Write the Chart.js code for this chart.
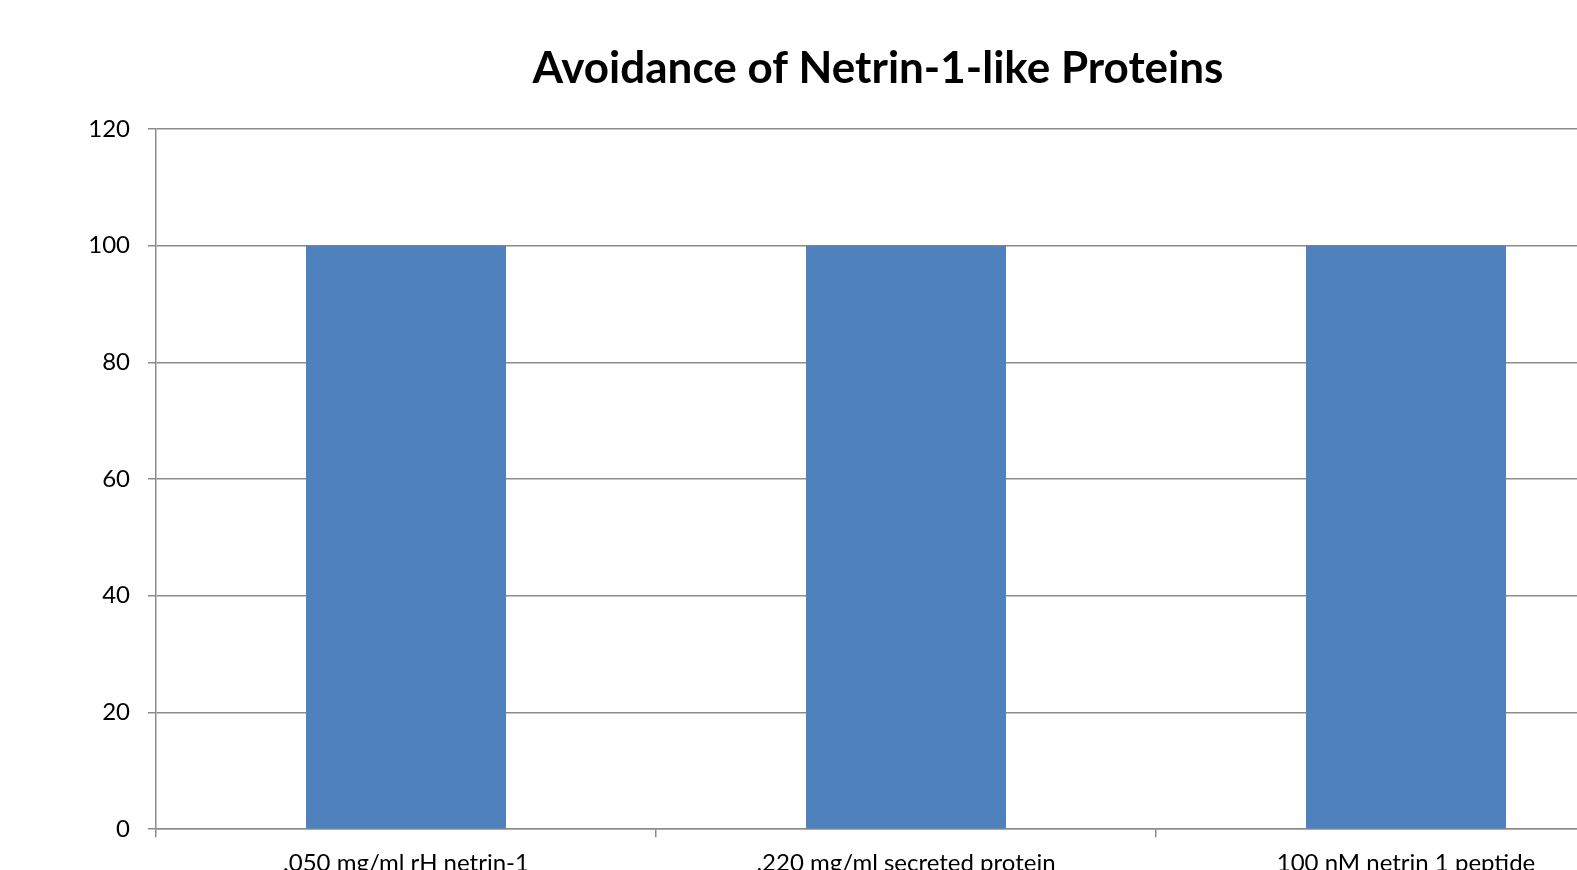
<!DOCTYPE html>
<html>
<head>
<meta charset="utf-8">
<title>Avoidance of Netrin-1-like Proteins</title>
<script src="https://cdn.jsdelivr.net/npm/chart.js@4"></script>
<style>
  html, body { margin: 0; padding: 0; background: #fff; overflow: hidden; }
  #wrap { width: 1577px; height: 870px; overflow: hidden; }
  canvas { display: block; }
</style>
</head>
<body>
<div id="wrap"><canvas id="chart" width="1756" height="890"></canvas></div>
<script>
// Excel-style chart; the plot runs past the right/bottom edge of the frame
const categories = [".050 mg/ml rH netrin-1", ".220 mg/ml secreted protein", "100 nM netrin 1 peptide"];
const avoidance = [100, 100, 100];
const yMin = 0, yMax = 120, yStep = 20;

const BAR_BLUE = "#4f81bd";
const GRID_GREY = "#8c8c8c";
const FONT = "Lato, 'Open Sans', sans-serif";

// the title is centred on the whole (uncropped) chart box, not the padded one
const titleSpan = {
  id: "titleSpan",
  afterLayout(chart) {
    if (chart.titleBlock) {
      chart.titleBlock.left = 0;
      chart.titleBlock.right = chart.width;
    }
  },
};

new Chart(document.getElementById("chart"), {
  type: "bar",
  data: {
    labels: categories,
    datasets: [{
      data: avoidance,
      backgroundColor: BAR_BLUE,
      borderWidth: 0,
      barPercentage: 0.4,
      categoryPercentage: 1,
    }],
  },
  options: {
    responsive: false,
    animation: false,
    devicePixelRatio: 1,
    layout: { padding: { left: 0, right: 100, top: 0, bottom: 0 } },
    plugins: {
      legend: { display: false },
      tooltip: { enabled: false },
      title: {
        display: true,
        text: "Avoidance of Netrin-1-like Proteins",
        color: "#000",
        font: { family: FONT, size: 44, weight: "bold", lineHeight: 1.2 },
        padding: { top: 42, bottom: 34 },
      },
    },
    scales: {
      x: {
        grid: { offset: true, drawOnChartArea: false, drawTicks: true, tickLength: 8, color: GRID_GREY, lineWidth: 1.5 },
        border: { color: GRID_GREY, width: 1.5 },
        ticks: { color: "#000", font: { family: FONT, size: 24 }, padding: 12, maxRotation: 0 },
      },
      y: {
        min: yMin,
        max: yMax,
        afterFit: (scale) => { scale.width = 156; },
        grid: { color: GRID_GREY, lineWidth: 1.5, tickLength: 8 },
        border: { color: GRID_GREY, width: 1.5 },
        ticks: { stepSize: yStep, color: "#000", font: { family: FONT, size: 24 }, padding: 18 },
      },
    },
  },
  plugins: [titleSpan],
});
</script>
</body>
</html>
